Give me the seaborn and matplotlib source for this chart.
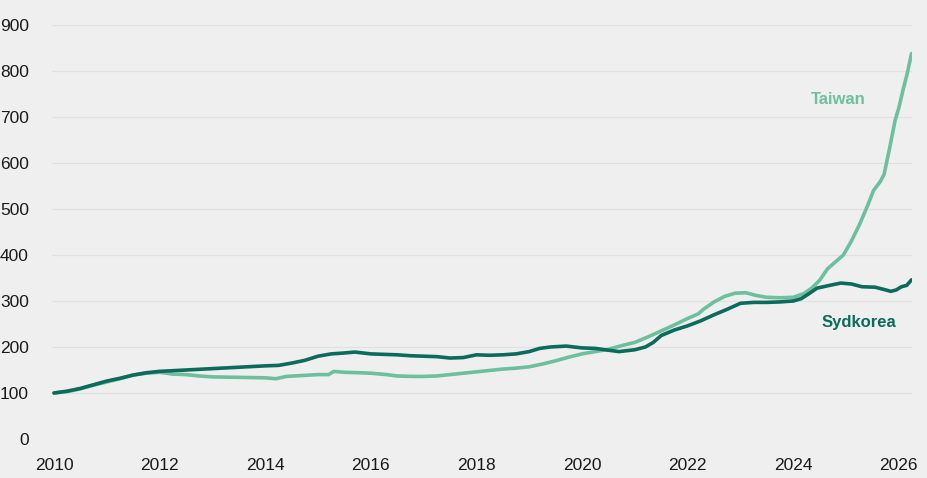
import numpy as np
import pandas as pd
import matplotlib
matplotlib.use("Agg")
import matplotlib.pyplot as plt
import seaborn as sns


# ============================================================
# DATA (index, 2010 = 100)
# ============================================================

taiwan_t = [2010.0, 2010.25, 2010.5, 2010.75, 2011.0, 2011.25, 2011.5, 2011.75,
            2012.0, 2012.25, 2012.5, 2012.75, 2013.0, 2013.5, 2014.0, 2014.2,
            2014.4, 2014.7, 2015.0, 2015.2, 2015.3, 2015.5, 2015.8, 2016.0,
            2016.3, 2016.5, 2016.8, 2017.0, 2017.25, 2017.5, 2017.75, 2018.0,
            2018.25, 2018.5, 2018.75, 2019.0, 2019.25, 2019.5, 2019.75, 2020.0,
            2020.25, 2020.5, 2020.75, 2021.0, 2021.25, 2021.5, 2021.75, 2022.0,
            2022.2, 2022.3, 2022.5, 2022.7, 2022.9, 2023.1, 2023.3, 2023.5,
            2023.75, 2024.0, 2024.2, 2024.35, 2024.5, 2024.65, 2024.8, 2024.95,
            2025.1, 2025.25, 2025.4, 2025.52, 2025.65, 2025.72, 2025.83, 2025.93,
            2026.0, 2026.08, 2026.16, 2026.24]
taiwan_v = [100, 103, 109, 117, 124, 131, 139, 143,
            145, 141, 140, 137, 135, 134, 133, 131,
            136, 138, 140, 140, 147, 145, 144, 143,
            140, 137, 136, 136, 137, 140, 143, 146,
            149, 152, 154, 157, 163, 170, 178, 185,
            190, 195, 203, 210, 222, 235, 248, 262,
            272, 282, 298, 310, 317, 318, 312, 308,
            307, 308, 316, 328, 345, 370, 385, 400,
            430, 465, 505, 540, 560, 575, 635, 693,
            720, 759, 795, 838]

korea_t = [2010.0, 2010.25, 2010.5, 2010.75, 2011.0, 2011.25, 2011.5, 2011.75,
           2012.0, 2012.5, 2013.0, 2013.5, 2014.0, 2014.25, 2014.5, 2014.75,
           2015.0, 2015.25, 2015.5, 2015.7, 2016.0, 2016.25, 2016.5, 2016.75,
           2017.0, 2017.25, 2017.5, 2017.75, 2018.0, 2018.25, 2018.5, 2018.75,
           2019.0, 2019.2, 2019.4, 2019.7, 2020.0, 2020.25, 2020.5, 2020.7,
           2021.0, 2021.2, 2021.35, 2021.5, 2021.75, 2022.0, 2022.25, 2022.5,
           2022.75, 2023.0, 2023.25, 2023.5, 2023.75, 2024.0, 2024.15, 2024.3,
           2024.45, 2024.65, 2024.9, 2025.1, 2025.3, 2025.55, 2025.72, 2025.85,
           2025.95, 2026.05, 2026.15, 2026.24]
korea_v = [100, 104, 110, 118, 126, 132, 139, 144,
           147, 150, 153, 156, 159, 160, 165, 171,
           180, 185, 187, 189, 185, 184, 183, 181,
           180, 179, 176, 177, 183, 182, 183, 185,
           190, 197, 200, 202, 198, 197, 193, 190,
           194, 200, 210, 225, 237, 246, 257, 270,
           282, 295, 297, 297, 298, 300, 305, 316,
           328, 333, 339, 337, 331, 330, 325, 321,
           324, 331, 334, 346]

TAIWAN_COLOR = "#6cc09d"
KOREA_COLOR = "#0c6b5b"
BG = "#efefef"

df = pd.concat([
    pd.DataFrame({"year": taiwan_t, "index": taiwan_v, "land": "Taiwan"}),
    pd.DataFrame({"year": korea_t, "index": korea_v, "land": "Sydkorea"}),
])


# ============================================================
# PLOT
# ============================================================

sns.set_theme(style="white")
plt.rcParams["font.family"] = ["Liberation Sans", "DejaVu Sans"]

fig = plt.figure(figsize=(9.28, 4.78), dpi=100, facecolor=BG)
ax = fig.add_axes([0.0565, 0.0816, 0.9263, 0.8661], facecolor=BG)

sns.lineplot(data=df, x="year", y="index", hue="land",
             palette={"Taiwan": TAIWAN_COLOR, "Sydkorea": KOREA_COLOR},
             hue_order=["Taiwan", "Sydkorea"],
             linewidth=2.6, legend=False, ax=ax)

ax.set_xlim(2009.97, 2026.25)
ax.set_ylim(0, 900)
ax.set_yticks(range(0, 901, 100))
ax.set_xticks(range(2010, 2027, 2))
ax.grid(axis="y", color="#e1e1e1", linewidth=0.9)
ax.set_axisbelow(True)
for s in ax.spines.values():
    s.set_visible(False)
ax.tick_params(axis="y", length=0, pad=17, labelsize=12.5, labelcolor="#1a1a1a")
ax.tick_params(axis="x", length=0, pad=14, labelsize=12.5, labelcolor="#1a1a1a")
ax.set_xlabel("")
ax.set_ylabel("")

ax.text(2024.86, 737, "Taiwan", color=TAIWAN_COLOR, fontsize=12,
        fontweight="bold", ha="center", va="center")
ax.text(2025.24, 253, "Sydkorea", color=KOREA_COLOR, fontsize=12,
        fontweight="bold", ha="center", va="center")

fig.savefig("out.png", dpi=100, facecolor=BG)
